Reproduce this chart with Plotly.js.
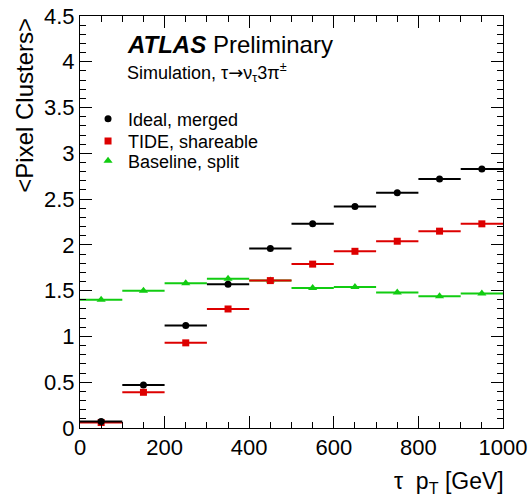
<!DOCTYPE html>
<html>
<head>
<meta charset="utf-8">
<script src="https://cdn.plot.ly/plotly-3.0.1.min.js"></script>
<style>html,body{margin:0;padding:0;background:#fff;}#chart{width:531px;height:500px;}</style>
</head>
<body>
<div id="chart"></div>
<script>
var binCenters = [50,150,250,350,450,550,650,750,850,950];
var binHalfWidth = [50,50,50,50,50,50,50,50,50,50];
var idealMerged = [0.07,0.47,1.12,1.57,1.96,2.23,2.42,2.57,2.72,2.83];
var tideShareable = [0.06,0.39,0.93,1.30,1.61,1.79,1.93,2.04,2.15,2.23];
var baselineSplit = [1.40,1.50,1.58,1.63,1.61,1.53,1.54,1.48,1.44,1.47];
var seriesNames = ['Ideal, merged','TIDE, shareable','Baseline, split'];
var xTickVals = [0,200,400,600,800,1000];
var xTickText = ['0','200','400','600','800','1000'];

var FONT = 'Liberation Sans, Arial, Helvetica, sans-serif';

function mk(y, name, color, symbol, size, legendId){
  return {
    x: binCenters, y: y, name: name, type: 'scatter', mode: 'markers', legend: legendId,
    marker: {color: color, symbol: symbol, size: size},
    error_x: {type: 'data', array: binHalfWidth, visible: true, width: 0, thickness: 2, color: color}
  };
}
var traces = [
  mk(baselineSplit, seriesNames[2], '#11cc11', 'triangle-up', 8, 'legend3'),
  mk(tideShareable, seriesNames[1], '#dd0000', 'square', 7, 'legend2'),
  mk(idealMerged, seriesNames[0], '#000000', 'circle', 7, 'legend')
];

var axBase = {
  showgrid: false, zeroline: false, showline: true, linecolor: '#000', linewidth: 1,
  mirror: 'allticks', ticks: 'inside', ticklen: 12, tickcolor: '#000', tickwidth: 1,
  tickfont: {family: FONT, size: 22, color: '#000'}
};

function leg(y){
  return {x: 0.019, y: y, xanchor: 'left', yanchor: 'middle', bgcolor: 'rgba(0,0,0,0)',
          font: {family: FONT, size: 18, color: '#000'}};
}

var layout = {
  width: 531, height: 500,
  margin: {l: 80, r: 28, t: 16, b: 72},
  paper_bgcolor: '#fff', plot_bgcolor: '#fff',
  showlegend: true,
  legend: leg(0.750),
  legend2: leg(0.696),
  legend3: leg(0.648),
  xaxis: Object.assign({}, axBase, {
    range: [0, 1000], tickvals: xTickVals, ticktext: xTickText,
    minor: {dtick: 50, ticks: 'inside', ticklen: 6, tickcolor: '#000', tickwidth: 1}
  }),
  yaxis: Object.assign({}, axBase, {
    range: [0, 4.5], dtick: 0.5, tick0: 0,
    minor: {dtick: 0.1, ticks: 'inside', ticklen: 6, tickcolor: '#000', tickwidth: 1}
  }),
  annotations: [
    {xref: 'paper', yref: 'paper', x: 0.106, y: 0.93, xanchor: 'left', yanchor: 'middle', showarrow: false,
     text: '<b><i>ATLAS</i></b> Preliminary', font: {family: FONT, size: 24, color: '#000'}},
    {xref: 'paper', yref: 'paper', x: 0.106, y: 0.864, xanchor: 'left', yanchor: 'middle', showarrow: false,
     text: 'Simulation, τ<span style="font-family:DejaVu Sans">→</span>ν<sub>τ</sub>3π<sup>±</sup>', font: {family: FONT, size: 18, color: '#000'}},
    {xref: 'paper', yref: 'paper', x: 1.008, y: -0.132, xanchor: 'right', yanchor: 'middle', showarrow: false,
     text: 'τ  p<sub>T</sub> [GeV]', font: {family: FONT, size: 23, color: '#000'}},
    {xref: 'paper', yref: 'paper', x: -0.132, y: 1.0, xanchor: 'center', yanchor: 'top', showarrow: false,
     textangle: -90, text: '&lt;Pixel Clusters&gt;', font: {family: FONT, size: 24, color: '#000'}}
  ]
};

Plotly.newPlot('chart', traces, layout, {displayModeBar: false, staticPlot: true});
</script>
</body>
</html>
